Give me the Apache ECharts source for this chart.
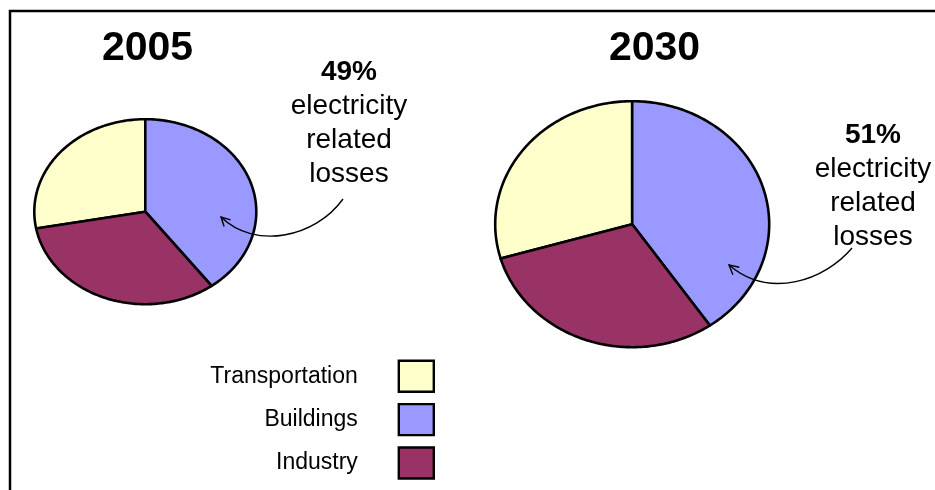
<!DOCTYPE html>
<html>
<head>
<meta charset="utf-8">
<script src="https://cdn.jsdelivr.net/npm/echarts@6/dist/echarts.min.js"></script>
<style>
html,body{margin:0;padding:0;background:#fff;}
#chart{width:935px;height:490px;}
</style>
</head>
<body>
<div id="chart"></div>
<script>
// ---- data ----
const categories = ['Transportation', 'Buildings', 'Industry'];
const years = ['2005', '2030'];
const transportation = [27.9, 29.5];
const buildings = [39.8, 40.4];
const industry = [32.3, 30.1];
const lossShares = ['49%', '51%'];
const noteLines = ['electricity', 'related', 'losses'];

// ---- styling / layout ----
const colors = { Transportation: '#FFFFCC', Buildings: '#9999FF', Industry: '#993366' };
const FONT = '"Liberation Sans", Arial, sans-serif';
const pieLayout = [
  { cx: 145.3, cy: 211.7, rx: 111, ry: 92.5 },
  { cx: 632.2, cy: 224.2, rx: 137, ry: 123 }
];
const valuesByCat = { Transportation: transportation, Buildings: buildings, Industry: industry };
const drawOrder = ['Buildings', 'Industry', 'Transportation']; // clockwise from 12 o'clock

function renderSlice(params, api) {
  const yi = params.dataIndex;
  const cat = categories[params.seriesIndex];
  const L = pieLayout[yi];
  let total = 0, start = 0, found = false;
  drawOrder.forEach(c => {
    if (c === cat) found = true;
    if (!found) start += valuesByCat[c][yi];
    total += valuesByCat[c][yi];
  });
  const v = api.value(0);
  const a0 = start / total * Math.PI * 2;
  const a1 = (start + v) / total * Math.PI * 2;
  const steps = Math.max(4, Math.ceil((a1 - a0) / (Math.PI / 180)));
  const pts = [[L.cx, L.cy]];
  for (let i = 0; i <= steps; i++) {
    const a = a0 + (a1 - a0) * i / steps;
    pts.push([L.cx + L.rx * Math.sin(a), L.cy - L.ry * Math.cos(a)]);
  }
  return {
    type: 'polygon',
    shape: { points: pts },
    style: { fill: api.visual('color'), stroke: '#000', lineWidth: 2.6, lineJoin: 'round' }
  };
}

const series = categories.map(c => ({
  type: 'custom',
  name: c,
  coordinateSystem: 'none',
  renderItem: renderSlice,
  itemStyle: { color: colors[c], borderColor: '#000', borderWidth: 2.6 },
  data: valuesByCat[c],
  silent: true
}));

function noteText(i) {
  return ['{b|' + lossShares[i] + '}'].concat(noteLines.map(s => '{r|' + s + '}')).join('\n');
}
const rich = {
  b: { fontSize: 28, fontWeight: 'bold', lineHeight: 34, fontFamily: FONT, fill: '#000' },
  r: { fontSize: 28, lineHeight: 34, fontFamily: FONT, fill: '#000' }
};

function arrow(p0, c1, c2, p3, arms) {
  return [
    { type: 'bezierCurve', shape: { x1: p0[0], y1: p0[1], cpx1: c1[0], cpy1: c1[1], cpx2: c2[0], cpy2: c2[1], x2: p3[0], y2: p3[1] },
      style: { stroke: '#000', lineWidth: 1.4, fill: null }, z: 10 },
    { type: 'polyline', shape: { points: [arms[0], p3, arms[1]] },
      style: { stroke: '#000', lineWidth: 1.4, fill: null }, z: 10 }
  ];
}

const chart = echarts.init(document.getElementById('chart'), null, { renderer: 'canvas' });
chart.setOption({
  animation: false,
  backgroundColor: '#fff',
  legend: {
    data: categories,
    orient: 'vertical',
    align: 'right',
    right: 500,
    top: 359.5,
    height: 160,
    itemWidth: 35,
    itemHeight: 31,
    itemGap: 10,
    padding: 0,
    icon: 'rect',
    selectedMode: false,
    itemStyle: { borderColor: '#000', borderWidth: 2.4 },
    textStyle: { fontSize: 23, lineHeight: 24, color: '#000', fontFamily: FONT, padding: [0, 36, 0, 0] }
  },
  graphic: [
    { type: 'rect', shape: { x: 10, y: 11, width: 960, height: 520 }, style: { fill: null, stroke: '#000', lineWidth: 2.5 }, z: 0 },
    { type: 'text', x: 147.5, y: 48.5, style: { text: years[0], fontSize: 41, fontWeight: 'bold', fontFamily: FONT, fill: '#000', align: 'center', verticalAlign: 'middle' } },
    { type: 'text', x: 654.5, y: 48.5, style: { text: years[1], fontSize: 41, fontWeight: 'bold', fontFamily: FONT, fill: '#000', align: 'center', verticalAlign: 'middle' } },
    { type: 'text', x: 349, y: 123, style: { text: noteText(0), rich: rich, align: 'center', verticalAlign: 'middle' } },
    { type: 'text', x: 873, y: 186, style: { text: noteText(1), rich: rich, align: 'center', verticalAlign: 'middle' } }
  ].concat(
    arrow([343, 199], [315, 238], [255, 250], [221, 217], [[230.6, 219.8], [224.1, 226.5]]),
    arrow([852, 248], [825, 280], [770, 300], [729, 265], [[739.3, 267.2], [732.9, 274.7]])
  ),
  series: series
});
</script>
</body>
</html>
